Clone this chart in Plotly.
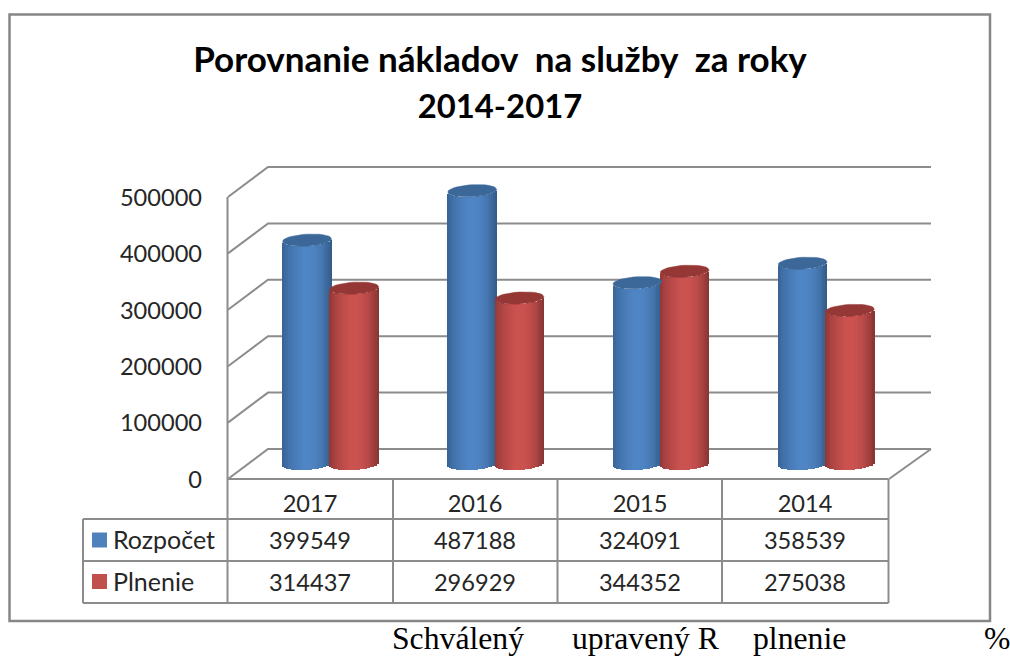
import math
import plotly.graph_objects as go

# ---- data ----
years = ["2017", "2016", "2015", "2014"]
rozpocet = [399549, 487188, 324091, 358539]
plnenie = [314437, 296929, 344352, 275038]
y_ticks = [0, 100000, 200000, 300000, 400000, 500000]
series_names = ["Rozpočet", "Plnenie"]
title_lines = ["Porovnanie nákladov\u00a0 na služby\u00a0 za roky", "2014-2017"]
footer_words = ["Schválený", "upravený R", "plnenie", "%"]
footer_x = [392, 572, 753, 984]

W, H = 1010, 657
GREY = "#8c8c8c"
FONT = "Lato"

# pixel <-> data helpers (the full page is one pair of axes)
def X(px):
    return (px - 248) / 165.2

def Y(py):
    return (464 - py) * 500000 / 282

PXV = 500000 / 282  # value units per pixel

fig = go.Figure()

# ---- walls and table lines (bottom layer) ----
lx, ly = [], []
def seg(*pts):
    for a, b in pts:
        lx.append(X(a))
        ly.append(Y(b))
    lx.append(None)
    ly.append(None)

for t in y_ticks:
    py0 = 464 - t / PXV
    seg((228, py0 + 15), (268, py0 - 15), (931, py0 - 15))
seg((227.5, 464 - 500000 / PXV + 15), (227.5, 479))
seg((889, 479), (931, 449))
# table grid
seg((227.5, 479), (888.5, 479))
seg((83, 519), (888.5, 519))
seg((83, 561), (888.5, 561))
seg((83, 603), (888.5, 603))
seg((83, 519), (83, 603))
for vx in [227.5, 393, 557.5, 722, 888.5]:
    seg((vx, 479), (vx, 603))
fig.add_trace(go.Scatter(x=lx, y=ly, mode="lines", line=dict(color=GREY, width=2),
                         hoverinfo="skip", showlegend=False))

# ---- text ----
def text(xs, ys, labels, pos, size, color="#262626", family=FONT):
    fig.add_trace(go.Scatter(x=[X(v) for v in xs], y=[Y(v) for v in ys], text=labels,
                             mode="text", textposition=pos,
                             textfont=dict(family=family, size=size, color=color),
                             hoverinfo="skip", showlegend=False))

text([202] * len(y_ticks), [482 - t / PXV for t in y_ticks], [str(t) for t in y_ticks],
     "middle left", 23.6)
cols = [310, 475, 640, 805]
text(cols, [506] * 4, years, "middle center", 23.6)
text(cols, [543] * 4, [str(v) for v in rozpocet], "middle center", 23.6)
text(cols, [585] * 4, [str(v) for v in plnenie], "middle center", 23.6)
text([113, 113], [543, 585], series_names, "middle right", 25)
fig.add_trace(go.Scatter(x=[X(99.5), X(99.5)], y=[Y(540), Y(581.5)], mode="markers",
                         marker=dict(symbol="square", size=15, color=["#4F81BD", "#C0504D"], line=dict(width=0)),
                         hoverinfo="skip", showlegend=False))
text(footer_x, [641] * 4, footer_words, "middle right", 31.7, "#000000", "Liberation Serif")

# ---- cylinders ----
HW = 24.5 / 165.2
B = 6.0 * PXV
TILT = 1.35 * PXV
N = 28

def lerp(c1, c2, f):
    return tuple(c1[i] + (c2[i] - c1[i]) * f for i in range(3))

def shade(t, dark, mid, darker):
    # t in [-1, 1]; brightest a little left of centre
    peak = -0.12
    if t < peak:
        f = (t + 1) / (peak + 1)
        c = lerp(dark, mid, min(1, f ** 0.55))
    else:
        f = (t - peak) / (1 - peak)
        c = lerp(mid, darker, f ** 2.5)
    return "rgb(%d,%d,%d)" % c

palette = [
    dict(dark=(52, 94, 142), mid=(80, 134, 198), darker=(50, 90, 134), cap="#3B6898", off=-23.6 / 165.2),
    dict(dark=(136, 52, 50), mid=(204, 83, 80), darker=(132, 52, 50), cap="#953735", off=23.6 / 165.2),
]

for name, vals, pal in zip(series_names, [rozpocet, plnenie], palette):
    bx, by, bb, bc, bw = [], [], [], [], []
    cx_all, cy_all = [], []
    for i, v in enumerate(vals):
        cx = i + 0.5 + pal["off"]
        for k in range(N):
            t = -1 + (k + 0.5) * 2 / N
            bx.append(cx + t * HW)
            by.append(v - 1.5 * PXV)
            bb.append(t * TILT - B * math.sqrt(max(0, 1 - t * t)))
            bc.append(shade(t, pal["dark"], pal["mid"], pal["darker"]))
            bw.append(2 * HW / N * 1.25)
        for a in range(0, 361, 10):
            th = math.radians(a)
            cx_all.append(cx + HW * math.cos(th))
            cy_all.append(v - 1.5 * PXV + B * math.sin(th) + TILT * math.cos(th))
        cx_all.append(None)
        cy_all.append(None)
    fig.add_trace(go.Bar(x=bx, y=by, base=bb, width=bw, name=name,
                         marker=dict(color=bc, line=dict(width=0)),
                         xaxis="x2", yaxis="y2", hoverinfo="skip", showlegend=False))
    fig.add_trace(go.Scatter(x=cx_all, y=cy_all, mode="lines", fill="toself", fillcolor=pal["cap"],
                             line=dict(color=pal["cap"], width=0.5), xaxis="x2", yaxis="y2",
                             hoverinfo="skip", showlegend=False))

xr = [X(0), X(W)]
yr = [Y(H), Y(0)]
hidden = dict(visible=False, fixedrange=True, domain=[0, 1])
title_text = title_lines[0] + '<br><span style="font-size:32.8px">' + title_lines[1] + "</span>"
fig.update_layout(
    width=W, height=H, margin=dict(l=0, r=0, t=0, b=0),
    paper_bgcolor="white", plot_bgcolor="rgba(0,0,0,0)",
    barmode="overlay", bargap=0, showlegend=False,
    title=dict(text=title_text, x=500 / W, xanchor="center", xref="paper",
               y=1 - 72 / H, yref="paper", yanchor="top",
               font=dict(family=FONT, size=35, color="#000000", weight="bold")),
    xaxis=dict(range=xr, **hidden),
    yaxis=dict(range=yr, **hidden),
    xaxis2=dict(range=xr, overlaying="x", visible=False, fixedrange=True),
    yaxis2=dict(range=yr, overlaying="y", visible=False, fixedrange=True),
    shapes=[dict(type="rect", xref="paper", yref="paper", x0=9.5 / W, x1=990 / W,
                 y0=1 - 621 / H, y1=1 - 14.5 / H, line=dict(color="#868686", width=2.5))],
)
fig.write_html("out.html", config=dict(displayModeBar=False),
               post_script="document.body.style.margin='0';document.body.style.overflow='hidden';")
